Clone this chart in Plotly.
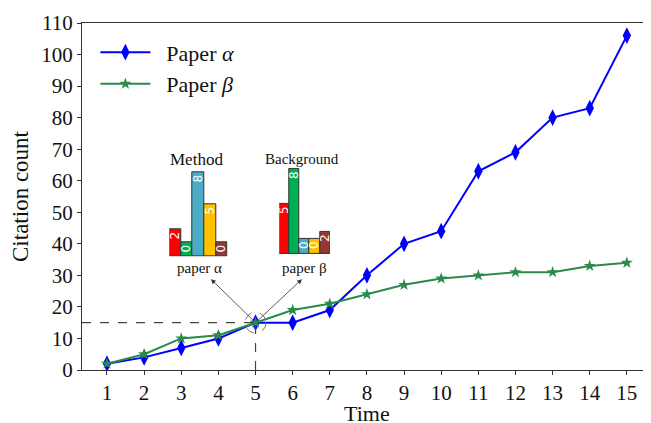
import plotly.graph_objects as go

time = list(range(1, 16))
paper_alpha = [2, 4, 7, 10, 15, 15, 19, 30, 40, 44, 63, 69, 80, 83, 106]
paper_beta = [2, 5, 10, 11, 15, 19, 21, 24, 27, 29, 30, 31, 31, 33, 34]

inset_cats = ["c1", "c2", "c3", "c4", "c5"]
inset_colors = ["#ff0000", "#00b050", "#4bacc6", "#ffc000", "#943634"]
method_labels = ["2", "0", "8", "5", "0"]
method_heights = [1.9, 1.0, 5.86, 3.64, 1.0]
background_labels = ["5", "8", "0", "0", "2"]
background_heights = [3.47, 5.9, 1.06, 1.06, 1.55]

yticks = list(range(0, 111, 10))
FONT = "Liberation Serif"
NB = "\u00a0"

fig = go.Figure()
fig.add_trace(go.Scatter(
    x=time, y=paper_alpha, mode="lines+markers", name=NB * 2 + "Paper <i>α</i>",
    line=dict(color="#0000ff", width=2),
    marker=dict(symbol="diamond-tall", size=12, color="#0000ff"),
    legendgroup="a"))
fig.add_trace(go.Scatter(
    x=time, y=paper_beta, mode="lines+markers", name=NB * 2 + "Paper <i>β</i>",
    line=dict(color="#2a8a4a", width=2),
    marker=dict(symbol="star", size=9, color="#2a8a4a"),
    legendgroup="b"))

for heights, labels, xa, ya in [(method_heights, method_labels, "x2", "y2"),
                                 (background_heights, background_labels, "x3", "y3")]:
    fig.add_trace(go.Bar(
        x=inset_cats, y=heights, text=labels, xaxis=xa, yaxis=ya,
        marker=dict(color=inset_colors, line=dict(color="#333333", width=1)),
        textposition="inside", insidetextanchor="end", textangle=-90,
        constraintext="none",
        textfont=dict(color="white", size=12, family="DejaVu Sans"),
        showlegend=False, hoverinfo="skip"))

axis_common = dict(showline=True, linecolor="#333333", linewidth=1,
                   ticks="outside", ticklen=4, tickwidth=1, tickcolor="#333333",
                   showgrid=False, zeroline=False, automargin=False,
                   tickfont=dict(family=FONT, size=21, color="#111111"))

fig.update_layout(
    width=651, height=423,
    margin=dict(l=74, r=8, t=15, b=61, autoexpand=False),
    paper_bgcolor="white", plot_bgcolor="white",
    font=dict(family=FONT, color="#111111"),
    bargap=0,
    xaxis=dict(range=[0.327, 15.65], tickvals=time, mirror=True, **axis_common),
    yaxis=dict(range=[0, 110], tickvals=yticks,
               title=dict(text="Citation count", font=dict(family=FONT, size=23), standoff=6),
               **axis_common),
    xaxis2=dict(domain=[0.1534, 0.2561], anchor="y2", visible=False, range=[-0.5, 4.5]),
    yaxis2=dict(domain=[0.3265, 0.5755], anchor="x2", visible=False, range=[0, 6]),
    xaxis3=dict(domain=[0.3467, 0.4359], anchor="y3", visible=False, range=[-0.5, 4.5]),
    yaxis3=dict(domain=[0.3334, 0.5824], anchor="x3", visible=False, range=[0, 6]),
    legend=dict(x=0.0235, y=0.976, xanchor="left", yanchor="top",
                bgcolor="rgba(0,0,0,0)", font=dict(family=FONT, size=22),
                traceorder="grouped", tracegroupgap=0, itemwidth=50),
    showlegend=True,
)

# x-axis title
fig.add_annotation(x=0.5, y=-0.126, xref="paper", yref="paper", text="Time",
                   showarrow=False, xanchor="center", yanchor="middle",
                   font=dict(family=FONT, size=22, color="#111111"))

# dashed guide lines to the point (5, 15)
guide_x = time[4]
guide_y = paper_alpha[4]
fig.add_shape(type="line", xref="x", yref="y", x0=0.327, x1=guide_x, y0=guide_y, y1=guide_y,
              line=dict(color="#444444", width=1.2, dash="dash"))
fig.add_shape(type="line", xref="x", yref="y", x0=guide_x, x1=guide_x, y0=0, y1=guide_y,
              line=dict(color="#444444", width=1.2, dash="dash"))
fig.add_shape(type="circle", xref="x", yref="y", xsizemode="pixel", ysizemode="pixel",
              xanchor=guide_x, yanchor=guide_y, x0=-10.5, x1=10.5, y0=-10.5, y1=10.5,
              line=dict(color="#777777", width=1, dash="dash"))

for hx in [3.80, 6.25]:
    fig.add_annotation(x=hx, y=28.8, xref="x", yref="y", ax=guide_x, ay=guide_y,
                       axref="x", ayref="y", text="", showarrow=True,
                       arrowhead=2, arrowsize=1.2, arrowwidth=0.8, arrowcolor="#333333")

labels = [("Method", 0.2021, 0.608, 17), ("Background", 0.3866, 0.608, 15),
          ("paper α", 0.2069, 0.294, 15), ("paper β", 0.391, 0.294, 15)]
for t, x, y, s in labels:
    fig.add_annotation(x=x, y=y, xref="paper", yref="paper", text=t, showarrow=False,
                       font=dict(family=FONT, size=s, color="#111111"),
                       xanchor="center", yanchor="middle")

fig.write_html("out.html")
